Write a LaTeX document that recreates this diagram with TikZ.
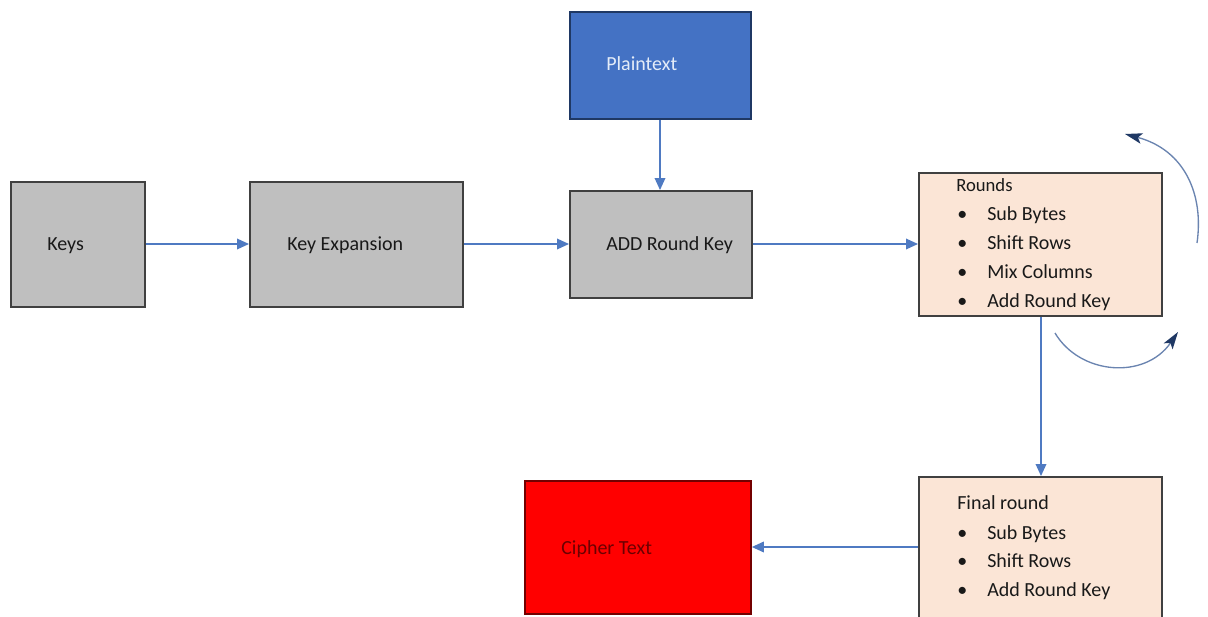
\documentclass[tikz,border=0pt]{standalone}
\usepackage{fontspec}
\setmainfont{Carlito}
\usetikzlibrary{arrows.meta}
\definecolor{boxgrey}{HTML}{BFBFBF}
\definecolor{edge}{HTML}{404040}
\definecolor{ptblue}{HTML}{4472C4}
\definecolor{ptedge}{HTML}{1F3864}
\definecolor{peach}{HTML}{FBE5D6}
\definecolor{conn}{HTML}{4F7AC2}
\definecolor{navy}{HTML}{1F3864}
\definecolor{arcline}{HTML}{6A84B0}
\definecolor{ctext}{HTML}{6B0000}
\definecolor{pttext}{HTML}{E4ECF8}
\begin{document}
\begin{tikzpicture}[x=0.75pt,y=-0.75pt,
  box/.style={draw=edge,line width=1.4pt,fill=boxgrey,inner sep=0pt,anchor=north west},
  txt/.style={font=\fontsize{15}{18}\selectfont,inner sep=0pt,anchor=base west,text=black!90},
  conn/.style={draw=conn,line width=1pt,-{Triangle[length=9pt,width=8pt]}},
  cyclearc/.style={draw=arcline,line width=1pt,-{Stealth[length=13pt,width=8pt,inset=3pt,color=navy,fill=navy]}}
]
\useasboundingbox (0,0) rectangle (1208,617);
\fill[white] (0,0) rectangle (1208,617);
% boxes
\node[box,minimum width=134*0.75pt,minimum height=125*0.75pt] (keys) at (10,181) {};
\node[box,minimum width=213*0.75pt,minimum height=125*0.75pt] (kexp) at (249,181) {};
\node[box,draw=ptedge,fill=ptblue,minimum width=181*0.75pt,minimum height=107*0.75pt] (plain) at (569,11) {};
\node[box,minimum width=182*0.75pt,minimum height=107*0.75pt] (ark) at (569,190) {};
\node[box,fill=peach,minimum width=243*0.75pt,minimum height=143*0.75pt] (rounds) at (918,172) {};
\node[box,fill=peach,minimum width=243*0.75pt,minimum height=150*0.75pt] (final) at (918,476) {};
\node[box,draw=red!45!black,fill=red,minimum width=226*0.75pt,minimum height=133*0.75pt] (cipher) at (524,480) {};
% texts
\node[txt] (tkeys) at (47,250) {Keys};
\node[txt] (tkexp) at (287,250) {Key Expansion};
\node[txt,text=pttext] (tplain) at (606,71) {Plaintext};
\node[txt] (tark) at (606,250) {ADD Round Key};
\node[txt,text=ctext] (tcipher) at (561,554) {Cipher Text};
\node[txt,font=\fontsize{14}{17}\selectfont] (trounds) at (956,191) {Rounds};
\node[txt] (r1b) at (957,220) {•};
\node[txt] (r1) at (987,220) {Sub Bytes};
\node[txt] (r2b) at (957,249) {•};
\node[txt] (r2) at (987,249) {Shift Rows};
\node[txt] (r3b) at (957,278) {•};
\node[txt] (r3) at (987,278) {Mix Columns};
\node[txt] (r4b) at (957,307) {•};
\node[txt] (r4) at (987,307) {Add Round Key};
\node[txt] (tfinal) at (957,509) {Final round};
\node[txt] (f1b) at (957,539) {•};
\node[txt] (f1) at (987,539) {Sub Bytes};
\node[txt] (f2b) at (957,567) {•};
\node[txt] (f2) at (987,567) {Shift Rows};
\node[txt] (f3b) at (957,596) {•};
\node[txt] (f3) at (987,596) {Add Round Key};
% connectors
\draw[conn] (keys.east |- 0,244) -- (kexp.west |- 0,244);
\draw[conn] (kexp.east |- 0,244) -- (ark.west |- 0,244);
\draw[conn] (plain.south -| 660,0) -- (ark.north -| 660,0);
\draw[conn] (ark.east |- 0,244) -- (rounds.west |- 0,244);
\draw[conn] (rounds.south -| 1041,0) -- (final.north -| 1041,0);
\draw[conn] (final.west |- 0,547) -- (cipher.east |- 0,547);
% cycle arcs
\coordinate (a1s) at (1197,243);
\coordinate (a1e) at (1125,134);
\coordinate (a2s) at (1055,333);
\coordinate (a2e) at (1178,332);
\draw[cyclearc] (a1s) .. controls (1204,195) and (1185,150) .. (a1e);
\draw[cyclearc] (a2s) .. controls (1080,375) and (1145,380) .. (a2e);
\end{tikzpicture}
\end{document}
